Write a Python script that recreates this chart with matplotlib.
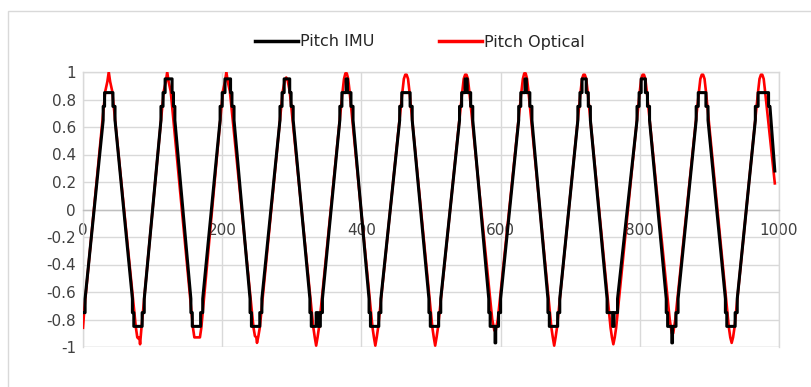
import matplotlib
matplotlib.use("Agg")
import matplotlib.pyplot as plt
from matplotlib.patches import Rectangle

# ---------------- data ----------------
x_ticks = [0, 200, 400, 600, 800, 1000]
x_tick_labels = ["0", "200", "400", "600", "800", "1000"]
y_ticks = [-1, -0.8, -0.6, -0.4, -0.2, 0, 0.2, 0.4, 0.6, 0.8, 1]
y_tick_labels = ["-1", "-0.8", "-0.6", "-0.4", "-0.2", "0", "0.2", "0.4", "0.6", "0.8", "1"]
series_names = ["Pitch IMU", "Pitch Optical"]

optical_x = [0, 2,
             32, 35, 37, 39, 42,
             76, 78, 80, 81, 82, 84,
             116, 119, 121, 123, 126,
             158, 160, 168, 170,
             201, 204, 206, 208, 211,
             245, 247, 249, 250, 252, 254,
             287, 290, 292, 294, 297,
             331, 333, 335, 337, 339,
             373, 375, 377, 379, 381, 383,
             416, 418, 420, 422, 424,
             459, 461, 463, 465, 467, 469,
             502, 504, 506, 508, 510,
             545, 547, 549, 551, 553, 555,
             588, 591, 593, 596,
             630, 632, 634, 636, 638, 640,
             673, 675, 677, 679, 681,
             715, 717, 719, 721, 723, 725,
             758, 760, 762, 764, 766,
             800, 802, 804, 806, 808, 810,
             843, 846, 848, 851,
             885, 887, 889, 891, 893, 895,
             928, 930, 932, 934, 936,
             970, 972, 974, 976, 978, 980,
             994]
optical_y = [-0.86, -0.72,
             0.86, 0.93, 1.0, 0.93, 0.86,
             -0.86, -0.93, -0.94, -0.93, -0.98, -0.86,
             0.86, 0.93, 1.0, 0.93, 0.86,
             -0.86, -0.93, -0.93, -0.86,
             0.86, 0.93, 1.0, 0.93, 0.86,
             -0.86, -0.92, -0.93, -0.97, -0.92, -0.86,
             0.86, 0.94, 0.96, 0.94, 0.86,
             -0.86, -0.93, -0.99, -0.93, -0.86,
             0.86, 0.95, 0.99, 0.99, 0.95, 0.86,
             -0.86, -0.93, -0.99, -0.93, -0.86,
             0.86, 0.95, 0.98, 0.98, 0.95, 0.86,
             -0.86, -0.93, -0.99, -0.93, -0.86,
             0.86, 0.95, 0.98, 0.98, 0.95, 0.86,
             -0.80, -0.88, -0.88, -0.80,
             0.86, 0.95, 0.99, 0.99, 0.95, 0.86,
             -0.86, -0.93, -0.99, -0.93, -0.86,
             0.86, 0.95, 0.98, 0.98, 0.95, 0.86,
             -0.86, -0.93, -0.98, -0.93, -0.86,
             0.86, 0.95, 0.98, 0.98, 0.95, 0.86,
             -0.80, -0.90, -0.90, -0.80,
             0.86, 0.95, 0.98, 0.98, 0.95, 0.86,
             -0.86, -0.93, -0.97, -0.93, -0.86,
             0.86, 0.95, 0.98, 0.98, 0.95, 0.86,
             0.19]

imu_x = [0, 3, 3,
         29, 29, 31, 31, 43, 43, 46, 46,
         71, 71, 73, 73, 85, 85, 88, 88,
         112, 112, 115, 115, 118, 118, 128, 128, 130, 130, 132, 132,
         155, 155, 157, 157, 169, 169, 172, 172,
         197, 197, 200, 200, 204, 204, 212, 212, 214, 214, 217, 217,
         240, 240, 242, 242, 254, 254, 257, 257,
         283, 283, 286, 286, 289, 289, 297, 297, 299, 299, 302, 302,
         326, 326, 328, 328, 335, 335, 338, 338, 341, 341, 344, 344,
         369, 369, 372, 372, 378, 378, 380, 380, 385, 385, 388, 388,
         411, 411, 413, 413, 425, 425, 428, 428,
         455, 455, 458, 458, 470, 470, 473, 473,
         497, 497, 499, 499, 511, 511, 514, 514,
         541, 541, 544, 544, 549, 549, 552, 552, 557, 557, 560, 560,
         583, 583, 585, 585, 592, 592, 593, 593, 597, 597, 600, 600,
         626, 626, 629, 629, 635, 635, 637, 637, 642, 642, 645, 645,
         668, 668, 670, 670, 682, 682, 685, 685,
         711, 711, 714, 714, 717, 717, 723, 723, 726, 726, 729, 729,
         753, 753, 761, 761, 763, 763, 768, 768,
         796, 796, 799, 799, 802, 802, 808, 808, 811, 811, 814, 814,
         838, 838, 840, 840, 846, 846, 847, 847, 852, 852, 855, 855,
         881, 881, 884, 884, 895, 895, 898, 898,
         923, 923, 925, 925, 937, 937, 940, 940,
         966, 966, 970, 970, 985, 985, 987, 994]
imu_y = [-0.75, -0.75, -0.65,
         0.65, 0.75, 0.75, 0.85, 0.85, 0.75, 0.75, 0.65,
         -0.65, -0.75, -0.75, -0.85, -0.85, -0.75, -0.75, -0.65,
         0.65, 0.75, 0.75, 0.85, 0.85, 0.95, 0.95, 0.85, 0.85, 0.75, 0.75, 0.65,
         -0.65, -0.75, -0.75, -0.85, -0.85, -0.75, -0.75, -0.65,
         0.65, 0.75, 0.75, 0.85, 0.85, 0.95, 0.95, 0.85, 0.85, 0.75, 0.75, 0.65,
         -0.65, -0.75, -0.75, -0.85, -0.85, -0.75, -0.75, -0.65,
         0.65, 0.75, 0.75, 0.85, 0.85, 0.95, 0.95, 0.85, 0.85, 0.75, 0.75, 0.65,
         -0.65, -0.75, -0.75, -0.85, -0.85, -0.75, -0.75, -0.85, -0.85, -0.75, -0.75, -0.65,
         0.65, 0.75, 0.75, 0.85, 0.85, 0.95, 0.95, 0.85, 0.85, 0.75, 0.75, 0.65,
         -0.65, -0.75, -0.75, -0.85, -0.85, -0.75, -0.75, -0.65,
         0.65, 0.75, 0.75, 0.85, 0.85, 0.75, 0.75, 0.65,
         -0.65, -0.75, -0.75, -0.85, -0.85, -0.75, -0.75, -0.65,
         0.65, 0.75, 0.75, 0.85, 0.85, 0.95, 0.95, 0.85, 0.85, 0.75, 0.75, 0.65,
         -0.65, -0.75, -0.75, -0.85, -0.85, -0.97, -0.97, -0.85, -0.85, -0.75, -0.75, -0.65,
         0.65, 0.75, 0.75, 0.85, 0.85, 0.95, 0.95, 0.85, 0.85, 0.75, 0.75, 0.65,
         -0.65, -0.75, -0.75, -0.85, -0.85, -0.75, -0.75, -0.65,
         0.65, 0.75, 0.75, 0.85, 0.85, 0.95, 0.95, 0.85, 0.85, 0.75, 0.75, 0.65,
         -0.65, -0.75, -0.75, -0.85, -0.85, -0.75, -0.75, -0.65,
         0.65, 0.75, 0.75, 0.85, 0.85, 0.95, 0.95, 0.85, 0.85, 0.75, 0.75, 0.65,
         -0.65, -0.75, -0.75, -0.85, -0.85, -0.97, -0.97, -0.85, -0.85, -0.75, -0.75, -0.65,
         0.65, 0.75, 0.75, 0.85, 0.85, 0.75, 0.75, 0.65,
         -0.65, -0.75, -0.75, -0.85, -0.85, -0.75, -0.75, -0.65,
         0.65, 0.75, 0.75, 0.85, 0.85, 0.75, 0.75, 0.28]

# ---------------- figure ----------------
W, H = 812, 387
fig = plt.figure(figsize=(W / 100, H / 100), dpi=100)
fig.patch.set_facecolor("white")

# outer chart border
fig.patches.append(Rectangle((8 / W, -0.1), 1.2, 1 - 11 / H + 0.1,
                             transform=fig.transFigure, fill=False,
                             edgecolor="#d9d9d9", linewidth=1.0))

ax = fig.add_axes([83 / W, (H - 347) / H, 696 / W, 275 / H])
grid_c = "#d9d9d9"
text_c = "#404040"

ax.plot(optical_x, optical_y, color="#ff0000", linewidth=1.9, zorder=3,
        label=series_names[1])
ax.plot(imu_x, imu_y, color="#000000", linewidth=2.2, zorder=4,
        label=series_names[0])

ax.set_xlim(0, 1000)
ax.set_ylim(-1, 1)
ax.set_xticks(x_ticks)
ax.set_xticklabels(x_tick_labels)
ax.set_yticks(y_ticks)
ax.set_yticklabels(y_tick_labels)

ax.grid(True, color=grid_c, linewidth=1.0, zorder=0)
ax.set_axisbelow(True)
for s in ["top", "right", "left"]:
    ax.spines[s].set_color(grid_c)
    ax.spines[s].set_linewidth(1.0)
ax.spines["bottom"].set_position(("data", 0))
ax.spines["bottom"].set_color("#bfbfbf")
ax.spines["bottom"].set_linewidth(1.0)
# bottom frame line of the plot area
ax.axhline(-1, color=grid_c, linewidth=1.0, zorder=0)

ax.tick_params(axis="y", length=0, pad=5, labelsize=11, labelcolor=text_c)
ax.tick_params(axis="x", length=0, pad=10, labelsize=11, labelcolor=text_c)
for lab in ax.get_xticklabels() + ax.get_yticklabels():
    lab.set_fontfamily("DejaVu Sans")

h, l = ax.get_legend_handles_labels()
order = [1, 0]
leg = fig.legend([h[i] for i in order], [l[i] for i in order],
                 loc="center", bbox_to_anchor=(420 / W, 1 - 42 / H), ncol=2,
                 frameon=False, handlelength=2.7,
                 handletextpad=0.15, columnspacing=4.0,
                 prop={"family": ["Liberation Sans Narrow", "DejaVu Sans"], "size": 11.5})
for t in leg.get_texts():
    t.set_color("#262626")
for ln in leg.get_lines():
    ln.set_linewidth(2.5)

fig.savefig("out.png", dpi=100, facecolor="white")
